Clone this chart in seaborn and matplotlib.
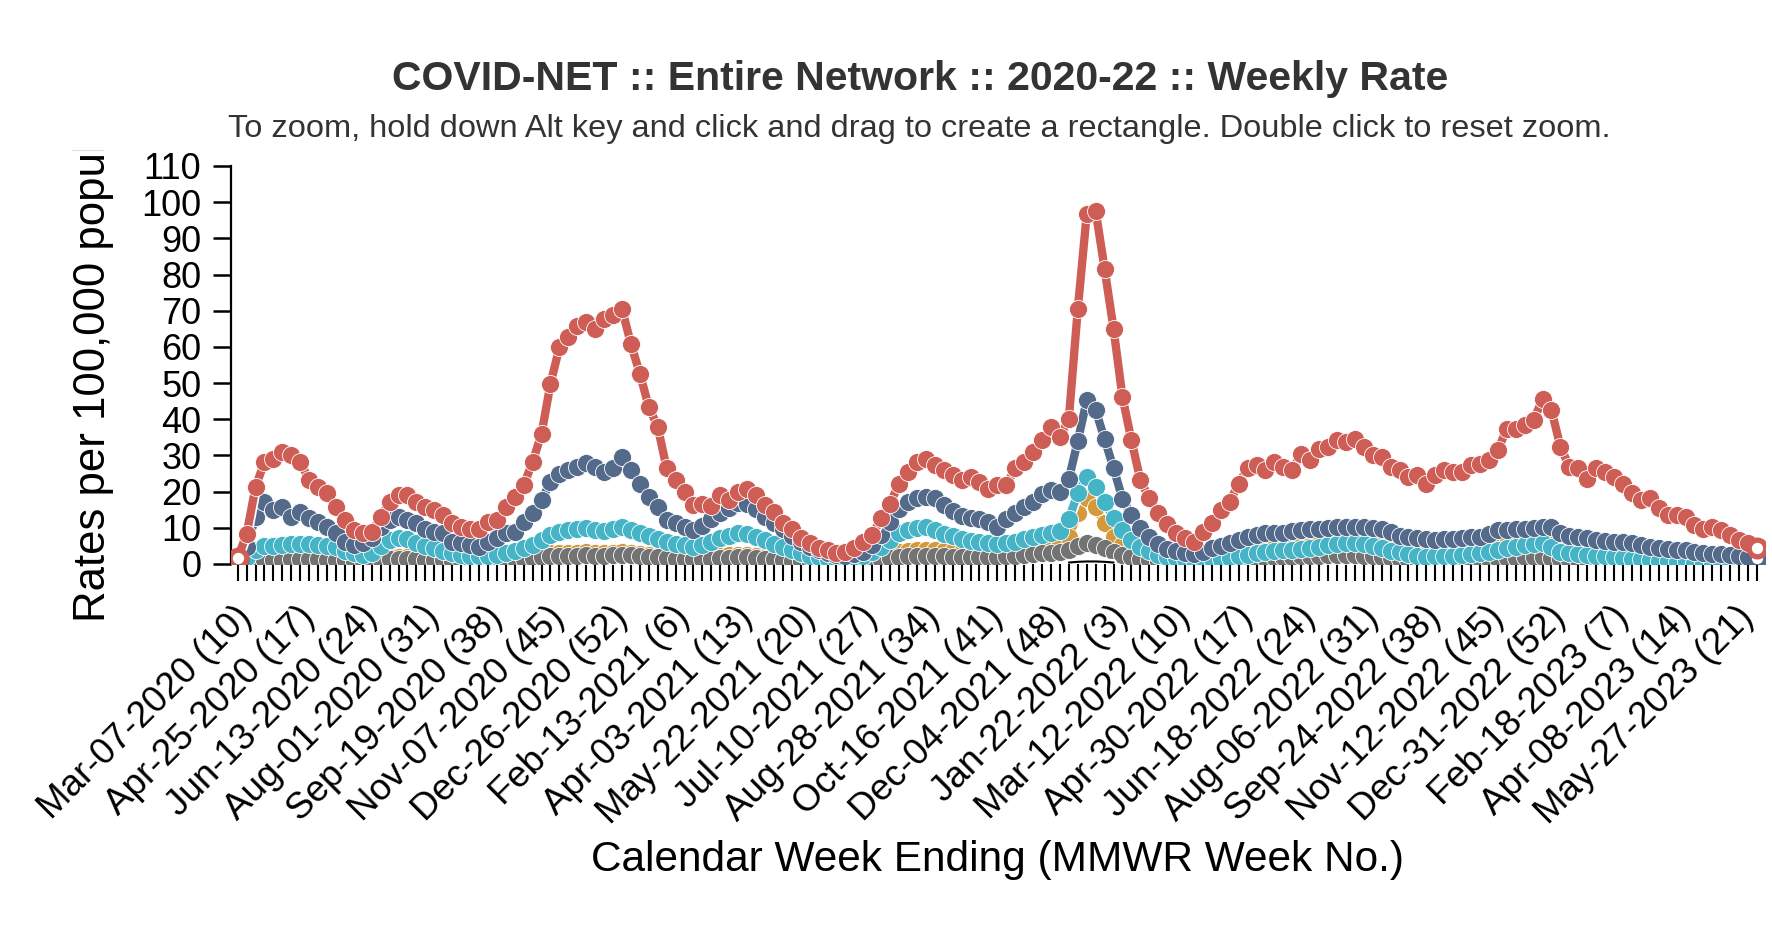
import numpy as np
import matplotlib
matplotlib.use('Agg')
import matplotlib.pyplot as plt
from matplotlib.transforms import Bbox, TransformedBbox, ScaledTranslation
import seaborn as sns

# week labels shown every 7th week (first week = Mar-07-2020)
tick_labels = ['Mar-07-2020 (10)', 'Apr-25-2020 (17)', 'Jun-13-2020 (24)', 'Aug-01-2020 (31)',
               'Sep-19-2020 (38)', 'Nov-07-2020 (45)', 'Dec-26-2020 (52)', 'Feb-13-2021 (6)',
               'Apr-03-2021 (13)', 'May-22-2021 (20)', 'Jul-10-2021 (27)', 'Aug-28-2021 (34)',
               'Oct-16-2021 (41)', 'Dec-04-2021 (48)', 'Jan-22-2022 (3)', 'Mar-12-2022 (10)',
               'Apr-30-2022 (17)', 'Jun-18-2022 (24)', 'Aug-06-2022 (31)', 'Sep-24-2022 (38)',
               'Nov-12-2022 (45)', 'Dec-31-2022 (52)', 'Feb-18-2023 (7)', 'Apr-08-2023 (14)',
               'May-27-2023 (21)']

red = [1.6, 8.3, 21.3, 28.2, 29.1, 31.0, 30.1, 28.2, 23.2, 21.3,
       19.5, 15.8, 12.1, 9.4, 8.5, 8.9, 13.0, 17.2, 19.0, 19.0,
       17.2, 15.8, 14.9, 13.5, 11.2, 10.3, 9.8, 9.8, 11.7, 12.1,
       15.8, 18.6, 21.8, 28.2, 36.0, 49.8, 59.9, 62.7, 65.9, 66.8,
       65.0, 67.8, 68.7, 70.5, 60.8, 52.6, 43.4, 37.9, 26.4, 23.2,
       19.9, 16.3, 16.7, 16.0, 19.0, 17.6, 19.9, 20.8, 19.0, 16.3,
       14.4, 11.2, 9.8, 7.1, 5.7, 4.3, 3.9, 2.9, 3.2, 4.3,
       6.1, 8.0, 12.6, 16.7, 22.2, 25.4, 28.2, 29.1, 27.3, 25.9,
       24.5, 23.2, 24.1, 22.7, 20.8, 21.8, 21.8, 26.4, 28.2, 31.0,
       34.2, 37.9, 35.1, 40.2, 70.5, 96.7, 97.6, 81.5, 65.0, 46.1,
       34.2, 23.2, 18.1, 14.0, 11.0, 8.7, 7.3, 6.2, 8.9, 11.2,
       14.9, 17.2, 22.2, 26.4, 27.3, 25.9, 28.2, 26.9, 25.9, 30.5,
       28.7, 31.9, 32.4, 34.2, 33.8, 34.6, 32.4, 30.1, 29.6, 26.9,
       25.9, 24.1, 24.5, 22.2, 24.5, 25.9, 25.4, 25.4, 27.3, 27.7,
       28.7, 31.4, 37.4, 37.4, 38.3, 39.7, 45.6, 42.5, 32.4, 26.9,
       26.4, 23.6, 26.4, 25.4, 24.1, 22.2, 19.5, 17.6, 18.1, 15.4,
       13.5, 13.5, 13.1, 10.8, 9.8, 10.3, 9.4, 8.0, 6.6, 5.7,
       4.3]

blue = [1.0, 4.8, 13.0, 17.2, 14.9, 15.8, 13.0, 14.4, 12.8, 11.5,
        10.3, 8.5, 6.1, 5.2, 5.7, 7.1, 10.3, 12.1, 13.0, 12.1,
        11.2, 9.8, 8.9, 8.5, 6.1, 5.7, 5.2, 4.8, 6.1, 7.1,
        8.5, 8.9, 11.7, 14.0, 17.6, 22.7, 25.0, 25.9, 26.8, 27.8,
        26.8, 25.4, 26.4, 29.6, 25.9, 22.2, 18.6, 15.8, 12.1, 11.2,
        10.3, 9.4, 10.5, 12.5, 14.2, 15.4, 16.8, 16.5, 15.2, 13.0,
        11.4, 9.8, 7.8, 6.0, 4.8, 3.8, 3.0, 2.5, 2.3, 2.8,
        3.4, 5.2, 8.0, 11.5, 15.2, 17.2, 18.3, 18.6, 18.2, 16.4,
        14.7, 13.2, 12.8, 12.4, 11.6, 10.3, 12.5, 14.2, 15.8, 17.2,
        19.3, 20.5, 20.0, 23.5, 34.0, 45.2, 42.5, 34.5, 26.5, 18.0,
        13.5, 10.0, 7.5, 5.5, 4.2, 3.6, 3.0, 2.7, 3.2, 4.3,
        5.0, 5.7, 6.5, 7.4, 8.1, 8.5, 8.5, 8.6, 9.0, 9.4,
        9.6, 9.8, 10.0, 10.2, 10.3, 10.3, 10.3, 10.0, 9.8, 8.8,
        7.8, 7.5, 7.2, 6.8, 6.6, 6.8, 7.0, 7.2, 7.4, 7.5,
        8.4, 9.3, 9.5, 9.7, 9.8, 10.0, 10.2, 10.3, 8.5, 7.8,
        7.4, 7.1, 6.7, 6.4, 6.1, 6.0, 5.8, 5.3, 4.8, 4.4,
        4.2, 4.0, 3.8, 3.4, 3.0, 2.8, 2.7, 2.5, 2.2, 1.9,
        1.6]

cyan = [0.5, 1.8, 4.0, 4.9, 5.0, 5.2, 5.4, 5.5, 5.5, 5.3,
        5.0, 4.6, 3.6, 3.0, 2.6, 3.0, 5.0, 6.6, 7.1, 6.8,
        5.8, 5.0, 4.3, 3.6, 3.0, 2.5, 2.2, 2.1, 2.3, 2.6,
        3.1, 3.7, 4.5, 5.2, 6.5, 8.0, 8.9, 9.4, 9.8, 10.0,
        9.5, 9.0, 9.6, 10.2, 9.5, 8.5, 7.6, 6.8, 6.0, 5.6,
        5.2, 4.8, 5.2, 6.2, 7.1, 7.8, 8.6, 8.4, 7.5, 6.6,
        5.6, 4.6, 3.8, 2.9, 2.2, 1.8, 1.4, 1.1, 1.2, 1.6,
        2.2, 3.4, 4.8, 6.6, 8.5, 9.4, 9.9, 10.3, 9.4, 8.2,
        7.6, 6.8, 6.4, 6.0, 5.7, 5.6, 5.7, 6.1, 6.8, 7.4,
        8.0, 8.5, 9.0, 12.5, 19.5, 24.1, 21.4, 17.2, 12.6, 9.4,
        6.6, 4.6, 3.6, 2.4, 1.9, 1.6, 1.3, 1.2, 1.3, 1.4,
        1.5, 1.7, 2.1, 2.5, 3.0, 3.3, 3.6, 3.8, 4.0, 4.2,
        4.4, 4.8, 5.2, 5.5, 5.7, 5.7, 5.4, 5.1, 4.5, 3.7,
        3.2, 2.8, 2.3, 2.0, 2.1, 2.2, 2.3, 2.4, 2.7, 3.0,
        3.4, 3.8, 4.3, 4.8, 5.2, 5.4, 5.7, 4.6, 3.4, 3.0,
        2.7, 2.5, 2.3, 2.1, 1.9, 1.7, 1.5, 1.3, 1.1, 0.9,
        0.7, 0.6, 0.5, 0.4, 0.3, 0.3, 0.3, 0.2, 0.2, 0.2,
        0.2]

orange = [0.4, 0.7, 1.1, 1.4, 1.5, 1.6, 1.7, 1.7, 1.7, 1.6,
          1.5, 1.4, 1.2, 1.1, 1.0, 1.1, 1.4, 1.8, 2.0, 1.9,
          1.7, 1.5, 1.4, 1.2, 1.1, 1.0, 0.9, 0.9, 1.0, 1.2,
          1.4, 1.7, 2.0, 2.3, 2.6, 2.9, 3.0, 3.1, 3.1, 3.2,
          3.1, 3.0, 3.1, 3.2, 3.0, 2.8, 2.5, 2.2, 2.0, 1.9,
          1.8, 1.7, 1.8, 2.0, 2.2, 2.4, 2.6, 2.5, 2.3, 2.0,
          1.7, 1.4, 1.1, 0.9, 0.7, 0.6, 0.5, 0.5, 0.5, 0.7,
          1.0, 1.4, 2.0, 2.6, 3.2, 3.6, 3.9, 4.0, 3.9, 3.7,
          3.5, 3.3, 3.2, 3.1, 3.1, 3.2, 3.4, 3.7, 4.0, 4.4,
          4.8, 5.2, 5.6, 7.5, 14.0, 18.1, 15.8, 11.2, 7.5, 5.2,
          3.9, 2.8, 2.1, 1.6, 1.3, 1.2, 1.2, 1.3, 1.5, 1.7,
          1.9, 2.2, 2.6, 3.1, 3.6, 4.0, 4.3, 4.5, 4.7, 4.9,
          5.1, 5.4, 5.8, 6.2, 6.4, 6.4, 6.1, 5.8, 5.3, 4.5,
          4.0, 3.6, 3.1, 2.8, 2.9, 3.0, 3.1, 3.2, 3.5, 3.9,
          4.4, 4.9, 5.4, 5.8, 6.1, 6.3, 6.5, 5.4, 4.2, 3.7,
          3.4, 3.1, 2.9, 2.7, 2.4, 2.2, 2.0, 1.8, 1.6, 1.4,
          1.2, 1.0, 0.9, 0.8, 0.7, 0.6, 0.6, 0.5, 0.5, 0.4,
          0.4]

gray = [0.3, 0.5, 0.8, 1.0, 1.1, 1.2, 1.3, 1.3, 1.3, 1.3,
        1.2, 1.1, 1.0, 0.9, 0.8, 0.9, 1.1, 1.4, 1.5, 1.4,
        1.3, 1.2, 1.1, 1.0, 0.9, 0.8, 0.8, 0.8, 0.9, 1.0,
        1.1, 1.3, 1.5, 1.7, 1.9, 2.1, 2.2, 2.3, 2.3, 2.4,
        2.3, 2.3, 2.4, 2.5, 2.4, 2.2, 2.0, 1.8, 1.6, 1.5,
        1.4, 1.3, 1.4, 1.5, 1.6, 1.7, 1.8, 1.8, 1.7, 1.5,
        1.3, 1.1, 0.9, 0.7, 0.6, 0.5, 0.4, 0.4, 0.4, 0.5,
        0.7, 0.9, 1.2, 1.6, 1.9, 2.1, 2.2, 2.3, 2.2, 2.1,
        2.0, 1.9, 1.9, 1.9, 1.9, 2.0, 2.1, 2.3, 2.5, 2.7,
        2.9, 3.1, 3.4, 4.0, 5.0, 5.8, 5.3, 4.4, 3.4, 2.6,
        2.0, 1.5, 1.1, 0.8, 0.6, 0.5, 0.5, 0.5, 0.6, 0.7,
        0.8, 0.9, 1.0, 1.2, 1.4, 1.6, 1.8, 1.9, 2.0, 2.1,
        2.2, 2.3, 2.4, 2.5, 2.5, 2.4, 2.3, 2.1, 1.9, 1.6,
        1.4, 1.2, 1.0, 0.9, 0.9, 1.0, 1.0, 1.1, 1.2, 1.3,
        1.4, 1.5, 1.6, 1.7, 1.8, 1.9, 2.0, 1.6, 1.3, 1.1,
        1.0, 0.9, 0.8, 0.7, 0.6, 0.5, 0.5, 0.4, 0.4, 0.3,
        0.3, 0.3, 0.2, 0.2, 0.2, 0.2, 0.2, 0.2, 0.1, 0.1,
        0.1]

# small black series visible only around the Jan 2022 peak
black_weeks = [93, 94, 95, 96, 97, 98]
black = [0.4, 0.6, 0.7, 0.7, 0.6, 0.4]

series = [(orange, '#D4993A'), (gray, '#737373'), (cyan, '#45B4C6'),
          (blue, '#536A8B'), (red, '#CD5D55')]

sns.set_theme(style='white')
plt.rcParams['font.family'] = ['Liberation Sans', 'DejaVu Sans']

fig = plt.figure(figsize=(17.72, 9.35), dpi=100)
ax = fig.add_axes([0.1301, 0.3968, 0.866, 0.4257])

weeks = np.arange(len(red))

z = 2
for i, (vals, col) in enumerate(series):
    # white halo under each line, then the line with its dots
    sns.lineplot(x=weeks, y=vals, color='white', linewidth=8.5, ax=ax, zorder=z)
    sns.lineplot(x=weeks, y=vals, color=col, linewidth=6, marker='o', markersize=13,
                 markeredgecolor='white', markeredgewidth=0.6, ax=ax, zorder=z + 0.5)
    z += 1
    if i == 1:
        sns.lineplot(x=black_weeks, y=black, color='white', linewidth=5, ax=ax, zorder=z)
        sns.lineplot(x=black_weeks, y=black, color='black', linewidth=1.5, ax=ax, zorder=z + 0.5)
        z += 1

# hollow end points of the top series
for vals, col in series[3:]:
    ax.plot([weeks[0], weeks[-1]], [vals[0], vals[-1]], 'o', ms=12, mfc='white',
            mec=col, mew=3.8, zorder=20)

ax.set_xlim(-0.8, 170.9)
ax.set_ylim(0, 110)
ax.set_yticks(range(0, 111, 10))
ax.set_xticks(weeks)
labels = ['' for _ in weeks]
for k, lab in enumerate(tick_labels):
    labels[k * 7] = lab
ax.set_xticklabels(labels, rotation=45, ha='right', rotation_mode='anchor')
ax.set_xlabel('')
ax.set_ylabel('')

for s in ['top', 'right', 'bottom']:
    ax.spines[s].set_visible(False)
ax.spines['left'].set_color('black')
ax.spines['left'].set_linewidth(1.6)

ax.tick_params(axis='x', bottom=True, length=12, width=1.5, color='black',
               labelsize=26.5, labelcolor='black', pad=6)
ax.tick_params(axis='y', left=True, length=13, width=1.8, color='black',
               labelsize=26, labelcolor='black', pad=8)
offset = ScaledTranslation(-2.5 / 72, -7.5 / 72, fig.dpi_scale_trans)
for lab in ax.get_xticklabels():
    lab.set_transform(lab.get_transform() + offset)

fig.text(0.519, 0.915, 'COVID-NET :: Entire Network :: 2020-22 :: Weekly Rate',
         ha='center', va='center', fontsize=29.5, fontweight='bold', color='#333333')
fig.text(0.519, 0.862, 'To zoom, hold down Alt key and click and drag to create a rectangle. '
         'Double click to reset zoom.', ha='center', va='center', fontsize=23.4, color='#333333')
fig.text(0.5627, 0.080, 'Calendar Week Ending (MMWR Week No.)', ha='center', va='center',
         fontsize=30.5, color='black')

ylab = fig.text(0.053, 0.3348, 'Rates per 100,000 population', rotation=90,
                ha='center', va='bottom', fontsize=31.5, color='black')
ylab.set_clip_box(TransformedBbox(Bbox([[0, 0], [0.12, 0.84]]), fig.transFigure))
ylab.set_clip_on(True)

fig.savefig('out.png', dpi=100, facecolor='white')
